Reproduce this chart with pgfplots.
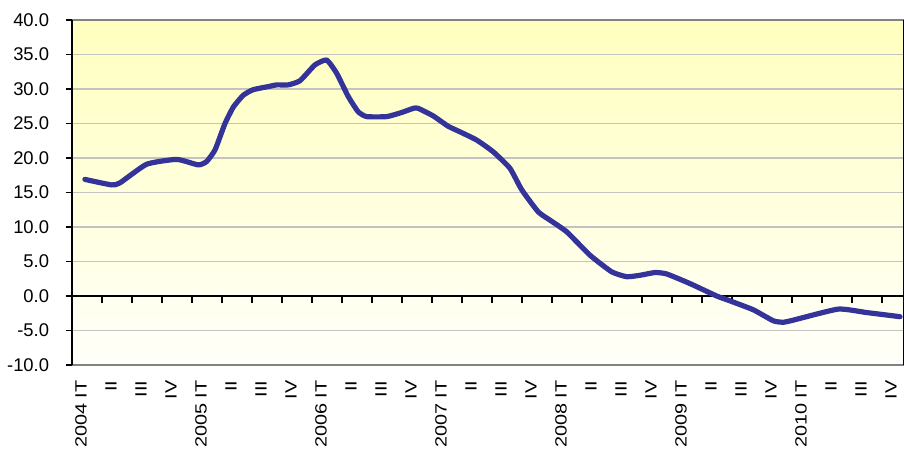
\documentclass[border=0pt]{standalone}
\usepackage{fontspec}
\setmainfont{Liberation Sans}
\newfontfamily\xlabfont[FakeStretch=1.22]{Liberation Sans}
\usepackage{pgfplots}
\pgfplotsset{compat=1.18}
\definecolor{serie}{RGB}{51,51,153}
\definecolor{gridc}{RGB}{195,195,195}
\definecolor{bgtop}{RGB}{255,255,190}
\definecolor{bgbot}{RGB}{255,255,250}
\definecolor{frame}{RGB}{130,130,130}

\begin{document}
\begin{tikzpicture}
\useasboundingbox (-54pt,-63.75pt) rectangle (624pt,273.75pt);
\clip (-54pt,-63.75pt) rectangle (624pt,273.75pt);
\pgfplotsset{every axis/.append style={at={(0,0)}, anchor=south west,
  width=624pt, height=258.75pt, scale only axis,
  xmin=0, xmax=27.7333, ymin=-10, ymax=40}}

% background, grid, frame and tick labels
\begin{axis}[
  axis background/.style={top color=bgtop, bottom color=bgbot},
  separate axis lines,
  every outer x axis line/.append style={draw=frame, line width=1pt},
  every outer y axis line/.append style={draw=black, line width=1.1pt},
  ymajorgrids, grid style={gridc, line width=0.8pt},
  ytick={-10,-5,...,40},
  yticklabels={-10.0,-5.0,0.0,5.0,10.0,15.0,20.0,25.0,30.0,35.0,40.0},
  ytick pos=left, tick align=outside,
  ytick style={black, line width=1pt},
  major tick length=4.5pt,
  yticklabel style={font=\fontsize{13.8}{13.8}\selectfont, inner sep=0pt, xshift=-12.5pt},
  xtick={0.3,1.3,...,27.3},
  xticklabels={2004 IT,II,III,IV,2005 IT,II,III,IV,2006 IT,II,III,IV,2007 IT,II,III,IV,
    2008 IT,II,III,IV,2009 IT,II,III,IV,2010 IT,II,III,IV},
  xtick style={draw=none},
  xticklabel style={rotate=90, anchor=east, inner sep=0pt,
    font=\xlabfont\fontsize{12.2}{12.2}\selectfont},
  xticklabel shift=7pt,
]
\end{axis}

% x axis through zero with its tick marks
\begin{axis}[
  axis x line*=middle, axis y line=none,
  xtick={1,2,...,27}, xticklabels={}, ytick=\empty,
  x axis line style={black, line width=1.1pt},
  xtick style={black, line width=1pt},
  major tick length=5.25pt, xtick align=outside,
]
\end{axis}

% the series
\begin{axis}[hide axis]
\addplot[serie, line width=3.9pt, smooth, tension=0.3, line join=round, line cap=round] coordinates {
 (0.43,16.9) (1.32,16.1) (1.60,16.4) (2.49,19.1) (3.49,19.8) (4.21,19.0)
 (4.49,19.5) (4.77,21.2) (5.10,25.0) (5.38,27.4) (5.71,29.1) (6.04,29.9)
 (6.60,30.4) (6.82,30.6) (7.21,30.6) (7.60,31.2) (8.10,33.5) (8.49,34.2)
 (8.82,32.3) (9.21,28.9) (9.54,26.7) (9.82,26.0) (10.49,26.0) (10.99,26.6)
 (11.38,27.2) (11.54,27.2) (12.04,26.1) (12.54,24.6) (12.93,23.8) (13.49,22.6)
 (14.04,20.9) (14.60,18.5) (14.99,15.4) (15.54,12.2) (15.93,11.0) (16.49,9.3)
 (17.27,5.9) (17.99,3.5) (18.49,2.8) (18.93,3.0) (19.43,3.4) (19.82,3.2)
 (20.60,1.8) (21.49,0.0) (21.93,-0.7) (22.71,-2.0) (23.38,-3.6) (23.71,-3.8)
 (24.04,-3.5) (25.54,-1.9) (26.49,-2.4) (27.60,-3.0)};
\end{axis}
\end{tikzpicture}
\end{document}
